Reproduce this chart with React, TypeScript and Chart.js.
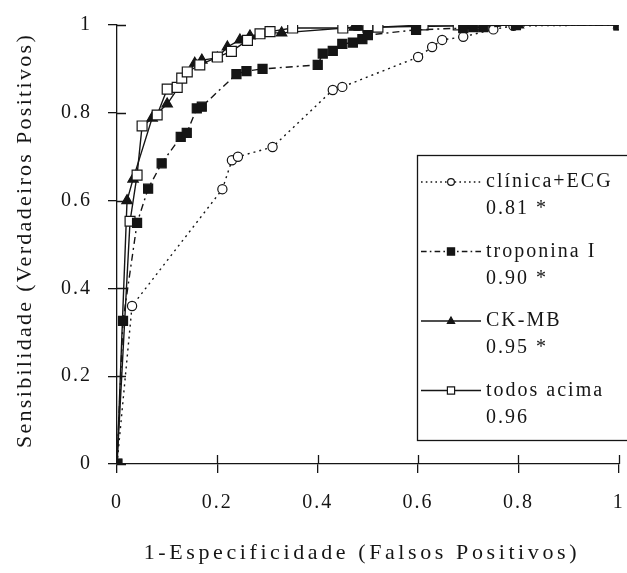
import React, { useEffect, useRef } from 'react';
import { Chart, registerables } from 'chart.js';

Chart.register(...registerables);

// ---- data ----
const clinicaX = [0, 0.03, 0.21, 0.229, 0.241, 0.31, 0.43, 0.449, 0.6, 0.628, 0.648, 0.69, 0.75, 0.79, 1];
const clinicaY = [0, 0.36, 0.626, 0.692, 0.7, 0.722, 0.852, 0.859, 0.927, 0.95, 0.966, 0.973, 0.99, 0.998, 1];

const tropX = [0, 0.012, 0.04, 0.062, 0.089, 0.127, 0.139, 0.159, 0.169, 0.238, 0.258, 0.29, 0.4, 0.41, 0.43, 0.449, 0.47, 0.489, 0.5, 0.596, 0.69, 0.71, 0.73, 0.795, 1];
const tropY = [0, 0.326, 0.549, 0.627, 0.685, 0.745, 0.754, 0.81, 0.814, 0.888, 0.895, 0.9, 0.909, 0.935, 0.941, 0.957, 0.96, 0.968, 0.977, 0.989, 0.993, 0.995, 0.995, 1, 1];

const ckX = [0, 0.02, 0.032, 0.07, 0.1, 0.155, 0.169, 0.2, 0.22, 0.245, 0.265, 0.3, 0.328, 0.473, 0.483, 0.7, 0.8, 1];
const ckY = [0, 0.6, 0.649, 0.788, 0.82, 0.913, 0.92, 0.925, 0.95, 0.966, 0.975, 0.982, 0.982, 0.995, 0.995, 0.998, 1, 1];

const todosX = [0, 0.026, 0.04, 0.05, 0.08, 0.1, 0.12, 0.129, 0.14, 0.165, 0.2, 0.228, 0.26, 0.285, 0.305, 0.35, 0.45, 0.5, 0.52, 0.61, 0.68, 0.72, 1];
const todosY = [0, 0.553, 0.658, 0.77, 0.795, 0.854, 0.858, 0.879, 0.893, 0.909, 0.927, 0.94, 0.965, 0.98, 0.985, 0.993, 0.993, 0.995, 0.995, 1, 1, 1, 1];

const xTicks = [0, 0.2, 0.4, 0.6, 0.8, 1];
const yTicks = [0, 0.2, 0.4, 0.6, 0.8, 1];
const xTickLabels = ['0', '0.2', '0.4', '0.6', '0.8', '1'];
const yTickLabels = ['0', '0.2', '0.4', '0.6', '0.8', '1'];

const seriesNames = ['clínica+ECG', 'troponina I', 'CK-MB', 'todos acima'];
const aucLabels = ['0.81 *', '0.90 *', '0.95 *', '0.96'];

const xTitle = '1-Especificidade (Falsos Positivos)';
const yTitle = 'Sensibilidade (Verdadeiros Positivos)';

// ---- styles ----
const FONT = '"Liberation Serif", "Times New Roman", serif';
const INK = '#151515';

type Style = { dash: number[]; marker: 'circle' | 'rect' | 'triangle'; filled: boolean; radius: number };
const styles: Style[] = [
  { dash: [2, 4], marker: 'circle', filled: false, radius: 4.6 },
  { dash: [7, 4, 2, 4], marker: 'rect', filled: true, radius: 6.4 },
  { dash: [], marker: 'triangle', filled: true, radius: 6 },
  { dash: [], marker: 'rect', filled: false, radius: 7 },
];

const pts = (xs: number[], ys: number[]) => xs.map((x, i) => ({ x, y: ys[i] }));

function drawMarker(ctx: CanvasRenderingContext2D, s: Style, x: number, y: number, r: number) {
  ctx.save();
  ctx.setLineDash([]);
  ctx.lineWidth = 1.2;
  ctx.strokeStyle = INK;
  ctx.fillStyle = s.filled ? INK : '#fff';
  ctx.beginPath();
  if (s.marker === 'circle') {
    ctx.arc(x, y, r, 0, Math.PI * 2);
  } else if (s.marker === 'rect') {
    ctx.rect(x - r, y - r, 2 * r, 2 * r);
  } else {
    ctx.moveTo(x, y - r * 1.1);
    ctx.lineTo(x + r, y + r * 0.7);
    ctx.lineTo(x - r, y + r * 0.7);
    ctx.closePath();
  }
  ctx.fill();
  ctx.stroke();
  ctx.restore();
}

const paperPlugin = {
  id: 'paper',
  beforeLayout(chart: any) {
    chart.ctx.letterSpacing = '2px';
  },
  beforeDraw(chart: any) {
    chart.ctx.letterSpacing = '2px';
    const ctx = chart.ctx;
    ctx.save();
    ctx.fillStyle = '#fff';
    ctx.fillRect(0, 0, chart.width, chart.height);
    ctx.restore();
  },
  afterDraw(chart: any) {
    const ctx: CanvasRenderingContext2D = chart.ctx;
    const xs = chart.scales.x;
    const ys = chart.scales.y;
    const area = chart.chartArea;
    ctx.save();
    // inner halves of the crossing tick marks
    ctx.strokeStyle = INK;
    ctx.lineWidth = 1.3;
    ctx.setLineDash([]);
    ctx.beginPath();
    xTicks.forEach((v) => {
      const px = Math.round(xs.getPixelForValue(v)) + 0.5;
      ctx.moveTo(px, area.bottom);
      ctx.lineTo(px, area.bottom - 9);
    });
    yTicks.forEach((v) => {
      const py = Math.round(ys.getPixelForValue(v)) + 0.5;
      ctx.moveTo(area.left, py);
      ctx.lineTo(area.left + 9, py);
    });
    ctx.stroke();

    // axis titles
    ctx.fillStyle = INK;
    ctx.font = `22px ${FONT}`;
    ctx.textAlign = 'center';
    ctx.textBaseline = 'middle';
    (ctx as any).letterSpacing = '3.6px';
    ctx.fillText(xTitle, (area.left + area.right) / 2 - 6, 553);
    ctx.save();
    ctx.translate(25, (area.top + area.bottom) / 2 - 4);
    ctx.rotate(-Math.PI / 2);
    (ctx as any).letterSpacing = '2.3px';
    ctx.fillText(yTitle, 0, 0);
    ctx.restore();

    // legend
    const bx = 417.5, by = 155.5, bw = 230, bh = 285;
    ctx.fillStyle = '#fff';
    ctx.fillRect(bx, by, bw, bh);
    ctx.strokeStyle = INK;
    ctx.lineWidth = 1.3;
    ctx.strokeRect(bx, by, bw, bh);
    ctx.font = `20px ${FONT}`;
    ctx.textAlign = 'left';
    (ctx as any).letterSpacing = '2px';
    seriesNames.forEach((name, i) => {
      const s = styles[i];
      const cy = 182 + i * 69.5;
      ctx.save();
      ctx.strokeStyle = INK;
      ctx.lineWidth = 1.4;
      ctx.setLineDash(s.dash.length ? s.dash.map((d) => d * 0.8) : []);
      ctx.beginPath();
      ctx.moveTo(421, cy);
      ctx.lineTo(481, cy);
      ctx.stroke();
      ctx.restore();
      drawMarker(ctx, s, 451, cy, s.marker === 'circle' ? 3.4 : 3.6);
      ctx.fillStyle = INK;
      ctx.fillText(name, 486, cy);
      ctx.fillText(aucLabels[i], 486, cy + 27);
    });
    ctx.restore();
  },
};

export default function App() {
  const ref = useRef<HTMLCanvasElement>(null);

  useEffect(() => {
    if (!ref.current) return;
    const sets = [
      pts(clinicaX, clinicaY),
      pts(tropX, tropY),
      pts(ckX, ckY),
      pts(todosX, todosY),
    ];
    const order = [3, 0, 2, 1];
    const chart = new Chart(ref.current, {
      type: 'line',
      data: {
        datasets: sets.map((d, i) => {
          const s = styles[i];
          return {
            label: seriesNames[i],
            data: d,
            order: order[i],
            borderColor: INK,
            borderWidth: 1.4,
            borderDash: s.dash,
            borderCapStyle: 'butt',
            tension: 0,
            fill: false,
            pointStyle: s.marker,
            pointRadius: s.radius,
            pointBorderWidth: 1.2,
            pointBorderColor: INK,
            pointBackgroundColor: s.filled ? INK : '#fff',
          };
        }) as any,
      },
      options: {
        animation: false,
        responsive: false,
        devicePixelRatio: 1,
        layout: { padding: { top: 25, right: 7, left: 0, bottom: 0 } },
        plugins: {
          legend: { display: false },
          tooltip: { enabled: false },
          title: { display: false },
        },
        scales: {
          x: {
            type: 'linear',
            min: 0,
            max: 1,
            afterBuildTicks: (scale: any) => {
              scale.ticks = xTicks.map((v) => ({ value: v }));
            },
            afterFit: (scale: any) => {
              scale.height = 109;
              scale.paddingLeft = 0;
              scale.paddingRight = 0;
            },
            ticks: {
              autoSkip: false,
              maxRotation: 0,
              padding: 18,
              color: INK,
              font: { family: FONT, size: 20 },
              callback: (_v: any, i: number) => xTickLabels[i],
            },
            grid: { drawOnChartArea: false, drawTicks: true, tickLength: 9, color: INK, lineWidth: 1.3 },
            border: { display: true, color: INK, width: 1.3 },
          },
          y: {
            type: 'linear',
            min: 0,
            max: 1,
            afterBuildTicks: (scale: any) => {
              scale.ticks = yTicks.map((v) => ({ value: v }));
            },
            afterFit: (scale: any) => {
              scale.width = 117;
              scale.paddingTop = 0;
              scale.paddingBottom = 0;
            },
            ticks: {
              autoSkip: false,
              padding: 16,
              color: INK,
              font: { family: FONT, size: 20 },
              callback: (_v: any, i: number) => yTickLabels[i],
            },
            grid: { drawOnChartArea: false, drawTicks: true, tickLength: 9, color: INK, lineWidth: 1.3 },
            border: { display: true, color: INK, width: 1.3 },
          },
        },
      } as any,
      plugins: [paperPlugin as any],
    });
    return () => chart.destroy();
  }, []);

  return (
    <div style={{ position: 'fixed', left: 0, top: 0, width: 627, height: 573, background: '#fff' }}>
      <canvas ref={ref} width={627} height={573} style={{ display: 'block', width: 627, height: 573 }} />
    </div>
  );
}
